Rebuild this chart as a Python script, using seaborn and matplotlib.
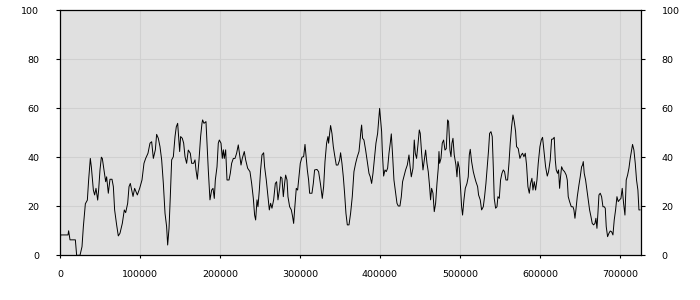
import numpy as np
import pandas as pd
import matplotlib
matplotlib.use("Agg")
import matplotlib.pyplot as plt
import seaborn as sns

# position along the sequence (in thousands) and measured value
position_thousands = [
    0, 0.8, 10, 10.8, 12.5, 19.2, 20.8, 25, 27.5, 29.2, 31.7, 34.2, 35.8, 37.9, 39.2, 41.7, 43.3, 45, 47.1, 48.3,
    50, 51.7, 52.9, 55, 57.1, 58.3, 60.4, 62.5, 65, 66.7, 68.3, 70.8, 72.9, 75, 77.9, 80.4, 82.1, 84.6, 86.3, 87.9,
    91.3, 93.3, 96.7, 99.6, 102.5, 105, 107.1, 110, 112.5, 114.6, 116.7, 119.2,
    120.8, 122.9, 125, 127.1, 129.2, 131.3, 133.3, 134.6, 136.3, 137.9, 139.6, 141.7, 143.8, 145.4, 147.1, 148.8,
    149.6, 150.8, 152.9, 154.6, 156.3, 158.3, 160.4, 162.9, 164.6, 167.1, 168.8, 170, 171.7, 173.8, 175.8, 177.5,
    178.3, 180, 182.5, 183.8, 185.4, 187.5, 189.6, 191.3, 192.9, 194.2, 196.3, 197.9, 199.2, 201.3, 202.9, 204.2,
    205.4, 207.1, 208.8, 211.3, 212.9, 214.6, 216.7, 218.8, 220.8, 222.9, 224.6, 226.3, 227.9, 230.4, 232.1, 234.6,
    237.5, 239.6, 241.7,
    243.3, 244.6, 246.3, 247.5, 249.2, 250.8, 252.5, 254.6, 255.8, 257.9, 260, 261.7, 263.3, 265, 267.1, 269.2,
    270.8, 272.5, 274.6, 275.8, 277.5, 279.2, 280.8, 282.1, 283.8, 285, 287.1, 289.2, 290.8, 292.1, 293.3, 295.4,
    297.1, 298.8, 300.4, 302.5, 304.6, 306.3, 307.5, 309.2, 310.8, 312.1, 315, 316.7, 318.3, 321.3, 323.3, 325.8,
    327.9, 329.6, 331.3, 333.3, 335, 335.8, 337.1, 338.3, 340, 341.7, 343.3, 345.4, 347.5, 349.6, 350.8, 352.5,
    354.2, 355.8, 357.5, 359.2,
    361.3, 363.3, 365.4, 367.5, 369.6, 371.7, 373.8, 375, 376.3, 377.1, 378.3, 380, 382.1, 384.2, 386.3, 387.9,
    389.6, 391.3, 393.3, 395, 397.1, 398.8, 399.6, 400.8, 402.1, 402.9, 404.6, 406.3, 407.9, 409.6, 411.3, 412.9,
    414.2, 415.8, 417.5, 419.6, 421.3, 422.9, 425, 426.7, 428.3, 430.4, 432.1, 434.2, 436.3, 437.5, 439.2, 441.3,
    442.9, 444.2, 445.8, 447.5, 449.2, 450.4, 452.1, 453.8, 455.4, 457.1, 458.8, 460.4, 462.1, 463.3, 464.6, 466.3,
    467.9, 469.6, 471.3, 472.9, 473.8, 474.6, 476.3, 477.9, 479.6, 481.3, 482.9,
    484.6, 485.8, 487.5, 488.8, 490, 491.3, 492.9, 495, 496.3, 497.5, 499.2, 500.8, 502.1, 503.3, 505, 506.7,
    508.8, 510.4, 511.7, 512.9, 514.6, 516.7, 518.3, 520, 522.1, 523.3, 525.4, 527.1, 529.2, 530.8, 532.5, 534.6,
    535.8, 537.1, 538.8, 540.4, 541.7, 542.9, 544.6, 546.3, 547.5, 549.2, 550.8, 552.5, 554.2, 555.8, 557.5, 559.6,
    561.3, 562.9, 564.6, 566.3, 567.9, 569.6, 570.8, 572.9, 575, 576.7, 578.3, 580, 581.7, 583.3, 585, 586.7,
    588.3, 590, 591.3, 592.9, 594.6, 596.3, 597.9, 600, 601.7, 603.3,
    605.4, 607.1, 609.2, 610.8, 612.9, 614.6, 616.3, 617.9, 619.2, 620.4, 622.1, 623.3, 624.6, 625.8, 627.1, 628.8,
    630.8, 632.9, 634.2, 635.4, 637.1, 639.2, 641.3, 642.5, 643.8, 645, 646.7, 648.8, 650.4, 652.1, 653.3, 654.2,
    655.4, 657.1, 658.8, 660.4, 662.1, 663.8, 665.4, 667.1, 668.8, 670, 671.3, 672.5, 673.8, 675.4, 677.1, 678.8,
    680.4, 681.7, 682.9, 684.6, 686.3, 687.9, 689.6, 691.3, 692.9, 694.6, 696.3, 697.9, 699.6, 701.3, 702.9, 704.6,
    706.3, 707.9, 709.6, 711.3, 712.9, 714.6, 715.8, 717.5, 719.2, 720.8, 722.5, 723.8, 725.4,
]
values = [
    3, 8.3, 8.3, 10, 6.3, 6.3, 0, 0, 3.5, 11.7, 21, 22.5, 30.7, 39.5, 36, 26.6, 24.6, 27.3, 22.5, 26.6,
    34.8, 40, 39.5, 34.8, 30, 32, 25.3, 31, 31, 28, 18.5, 12.4, 7.9, 9, 13, 18.5, 17.4, 21.2, 28, 29.3,
    24, 27.3, 24.6, 27.3, 30.7, 37.5, 39.5, 41.6, 45.7, 46.3, 39.5, 43,
    49.3, 47.7, 44.3, 38.9, 29.3, 17.1, 11.7, 4.2, 11, 23.9, 38.9, 40.2, 48.4, 52.4, 53.8, 46.3,
    42.3, 48.4, 47.7, 45.7, 40.2, 37.5, 42.9, 41.6, 37.5, 37.5, 38.9, 34.8, 31, 38.9, 48.4, 53.8,
    55.2, 53.8, 54.5, 45.7, 34.8, 22.6, 26.6, 27.3, 23.2, 30.7, 36.1, 45.7, 47, 45.7, 39.5, 43,
    39.5, 43, 30.7, 30.7, 33.4, 37.5, 39.5, 39.5, 41.6, 45, 40.9, 36.8, 39.5, 42.3, 38.9, 35.5,
    34.1, 29.3, 23.2,
    16.4, 14.4, 22.6, 19.8, 26.6, 34.8, 40.9, 41.8, 36.1, 30.7, 23.9, 18.5, 21.2, 19.2, 22.6, 29.3,
    30, 22.6, 27.3, 32, 31.4, 23.9, 29.3, 32.7, 30.7, 23.9, 19.8, 18.5, 15.8, 13, 18.5, 27.3,
    26.6, 32, 37.5, 40, 40.2, 45.2, 40.9, 34.8, 30.7, 25.3, 25.3, 29.3, 34.8, 35, 34.1, 28.7,
    23.2, 28, 38.2, 45.7, 48.4, 45.7, 49.7, 52.9, 49.7, 44.3, 40.9, 36.8, 36.8, 38.9, 41.8, 37.5,
    32, 25.3, 17.1, 12.4,
    12.4, 17.1, 23.9, 34.1, 37.5, 40.2, 42.3, 46.3, 51.1, 53.1, 47.7, 47, 42.9, 38.2, 33.4, 32,
    29.3, 33.4, 40.2, 45.7, 49.7, 56.5, 59.9, 55.2, 50.4, 42.9, 32.3, 34.8, 34.1, 35.5, 41.6, 45.7,
    49.5, 40.9, 30.7, 25.3, 21.2, 20.1, 20.1, 23.9, 30, 32.7, 34.8, 36.8, 40.9, 36.8, 32, 35.5,
    47, 41.6, 39.5, 45, 51.1, 49.7, 41.6, 34.8, 38.9, 42.9, 37.5, 34.1, 28, 22.6, 27.3, 25.3,
    17.8, 21.2, 29.3, 35.5, 42.3, 37.5, 39.5, 45.7, 47, 42.9, 43.5,
    55.2, 54.5, 42.9, 40.2, 45.7, 47.7, 40.9, 36.8, 32, 38.2, 35.5, 27.3, 19.8, 16.4, 22.6, 27.3,
    29.3, 32, 40.9, 43.2, 38.2, 34.1, 32, 30, 28, 24.6, 22.6, 18.5, 19.8, 23.9, 29.3, 38.2,
    42.9, 49.7, 50.4, 48.4, 36.1, 23.2, 19.2, 19.8, 23.9, 23.2, 30.7, 33.4, 34.8, 34.1, 30.7, 30.7,
    37.5, 45.7, 52.4, 57.2, 54.5, 50.4, 44.3, 43.5, 39.5, 40.9, 41.6, 40.2, 41.6, 36.8, 28, 25.3,
    29.3, 31.4, 26.6, 30, 26.6, 30.7, 37.5, 44.3, 47, 48.1,
    41.6, 36.1, 32.3, 34.1, 38.9, 47.3, 47.4, 48.1, 38.9, 34.8, 33.4, 34.8, 27.3, 32, 36.1, 34.8,
    34.1, 32.7, 30.7, 23.9, 21.9, 19.8, 19.8, 18.5, 15.1, 18.5, 23.9, 28.7, 32, 36.1, 36.8, 38.2,
    33.4, 30.7, 26.6, 22.6, 18.5, 15.8, 13, 12.4, 13, 15.1, 11, 17.1, 24.6, 25.3, 23.9, 19.8,
    19.8, 19.2, 11.7, 7.6, 9, 9.9, 9.6, 8.3, 14.4, 18.5, 23.9, 21.9, 22.6, 23.2, 27.3, 21.2,
    16.4, 30.7, 32.7, 35.5, 39.5, 42.9, 45.2, 42.9, 37.5, 30.7, 26.6, 18.5, 18.5,
]
x_ticks = [0, 100000, 200000, 300000, 400000, 500000, 600000, 700000]
y_ticks = [0, 20, 40, 60, 80, 100]

df = pd.DataFrame({"position": np.array(position_thousands) * 1000, "value": values})

sns.set_style("white")
plt.rcParams["font.family"] = ["DejaVu Sans"]

fig = plt.figure(figsize=(7, 3), dpi=100)
ax = fig.add_axes([60 / 700, 1 - 255.3 / 300, 580.7 / 700, 245.3 / 300])
ax.set_facecolor("#e0e0e0")

sns.lineplot(data=df, x="position", y="value", color="black", linewidth=0.7,
             estimator=None, sort=False, ax=ax)

ax.set_xlim(0, 726000)
ax.set_ylim(0, 100)
ax.set_xticks(x_ticks)
ax.set_xticklabels([str(v) for v in x_ticks])
ax.set_yticks(y_ticks)
ax.set_yticklabels([str(v) for v in y_ticks])
ax.grid(True, color="#d0d0d0", linewidth=0.8)
ax.set_axisbelow(True)

ax.tick_params(axis="y", left=True, right=True, labelleft=True, labelright=True,
               direction="out", length=3, width=0.8, pad=12, labelsize=6.8, colors="black")
ax.tick_params(axis="x", bottom=True, top=False, direction="out", length=1.8, width=0.8,
               pad=9, labelsize=6.8, colors="black")
for s in ax.spines.values():
    s.set_visible(True)
    s.set_color("black")
    s.set_linewidth(0.9)
ax.set_xlabel("")
ax.set_ylabel("")

fig.savefig("out.png", dpi=100)
